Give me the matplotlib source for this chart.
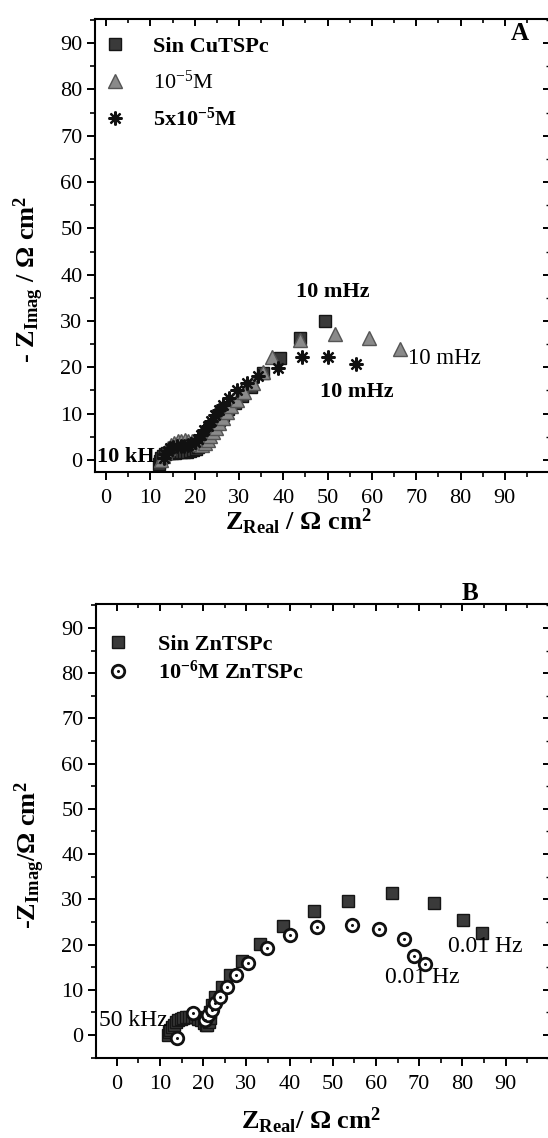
import matplotlib
matplotlib.use("Agg")
import matplotlib.pyplot as plt
from matplotlib.ticker import MultipleLocator
from matplotlib.legend_handler import HandlerTuple

# ---------------- data: panel A ----------------
sq_A_x = [12.0, 12.2, 12.5, 12.9, 13.3, 13.8, 14.3, 14.9, 15.5, 16.1, 16.8, 17.5, 18.2, 18.9, 19.6, 20.2, 20.8, 21.3, 21.8, 22.4, 23.0, 23.7, 24.5, 25.4, 26.4, 27.6, 29.0, 30.7, 32.7, 35.5, 39.3, 43.8, 49.4]
sq_A_y = [-0.8, -0.2, 0.4, 0.9, 1.3, 1.5, 1.6, 1.6, 1.6, 1.7, 1.7, 1.8, 1.8, 1.9, 2.1, 2.4, 2.9, 3.5, 4.2, 4.9, 5.7, 6.6, 7.6, 8.6, 9.7, 10.9, 12.2, 13.9, 15.8, 18.8, 22.0, 26.3, 30.0]

tri_A_x = [12.5, 12.9, 13.4, 14.0, 14.7, 15.4, 16.2, 17.0, 17.8, 18.6, 19.4, 20.2, 21.0, 21.7, 22.3, 22.9, 23.5, 24.1, 24.8, 25.5, 26.3, 27.2, 28.3, 29.6, 31.2, 33.2, 35.4, 37.4, 43.8, 51.7, 59.4, 66.4]
tri_A_y = [0.0, 0.9, 1.8, 2.6, 3.2, 3.7, 4.0, 4.2, 4.3, 4.2, 4.0, 3.7, 3.4, 3.3, 3.6, 4.3, 5.1, 6.0, 7.0, 8.0, 9.1, 10.3, 11.6, 13.0, 14.7, 16.7, 19.0, 22.3, 25.8, 27.2, 26.3, 24.0]

st_A_x = [13.0, 13.4, 13.9, 14.5, 15.2, 16.0, 16.8, 17.6, 18.4, 19.2, 20.0, 20.7, 21.4, 22.1, 22.9, 23.7, 24.6, 25.5, 26.5, 27.8, 29.6, 31.8, 34.2, 38.8, 44.2, 50.1, 56.4]
st_A_y = [0.5, 1.3, 2.0, 2.5, 2.8, 3.0, 3.0, 3.1, 3.2, 3.4, 3.8, 4.5, 5.4, 6.4, 7.4, 8.5, 9.6, 10.7, 11.9, 13.4, 15.1, 16.6, 18.2, 19.9, 22.2, 22.2, 20.7]

labels_A = ["Sin CuTSPc", r"10$^{-5}$M", r"5x10$^{\mathbf{-5}}$M"]

# ---------------- data: panel B ----------------
sq_B_x = [11.9, 12.1, 12.4, 12.8, 13.2, 13.7, 14.2, 14.8, 15.4, 16.0, 16.7, 17.4, 18.1, 18.8, 19.5, 20.1, 20.6, 21.0, 21.3, 21.5, 21.6, 22.0, 22.8, 24.3, 26.2, 29.1, 33.2, 38.4, 45.7, 53.5, 63.7, 73.5, 80.1, 84.6]
sq_B_y = [0.0, 0.6, 1.2, 1.8, 2.3, 2.8, 3.2, 3.5, 3.7, 3.9, 4.0, 4.0, 3.9, 3.6, 3.2, 2.7, 2.3, 2.3, 2.9, 3.8, 5.0, 6.6, 8.5, 10.7, 13.3, 16.4, 20.1, 24.0, 27.3, 29.7, 31.3, 29.1, 25.4, 22.6]

ci_B_x = [13.9, 17.7, 20.4, 21.2, 22.0, 22.8, 23.9, 25.6, 27.6, 30.5, 34.7, 40.0, 46.3, 54.5, 60.6, 66.6, 68.8, 71.4]
ci_B_y = [-0.7, 4.8, 3.3, 4.4, 5.5, 7.0, 8.5, 10.7, 13.3, 16.0, 19.2, 22.0, 23.8, 24.3, 23.4, 21.2, 17.5, 15.7]

labels_B = ["Sin ZnTSPc", r"10$^{\mathbf{-6}}$M ZnTSPc"]

xticks = [0, 10, 20, 30, 40, 50, 60, 70, 80, 90]
yticks = [0, 10, 20, 30, 40, 50, 60, 70, 80, 90]

# ---------------- style ----------------
plt.rcParams["font.family"] = ["Liberation Serif", "DejaVu Serif"]
plt.rcParams["mathtext.fontset"] = "custom"
plt.rcParams["mathtext.rm"] = "Liberation Serif"
plt.rcParams["mathtext.bf"] = "Liberation Serif:bold"
plt.rcParams["mathtext.it"] = "Liberation Serif:italic"
plt.rcParams["axes.linewidth"] = 1.5

W, H = 548, 1138
fig = plt.figure(figsize=(W / 100, H / 100), dpi=100)

axA = fig.add_axes([95 / W, (H - 472) / H, 455 / W, 453 / H])
axB = fig.add_axes([96 / W, (H - 1058) / H, 454 / W, 454 / H])

SQ = dict(marker="s", ls="none", ms=8.5, mfc="#3a3a3a", mec="#151515", mew=1.0)
TR = dict(marker="^", ls="none", ms=10, mfc="#8a8a8a", mec="#555555", mew=1.0)
ST = dict(marker=(8, 2, 0), ls="none", ms=10, mec="#111111", mew=1.6)
CI = dict(marker="o", ls="none", ms=9, mfc="white", mec="#111111", mew=2.0)
DT = dict(marker="o", ls="none", ms=2.2, mfc="#111111", mec="#111111", mew=0)


def style_axes(ax, xlim, ylim):
    ax.set_xlim(*xlim)
    ax.set_ylim(*ylim)
    ax.set_xticks(xticks)
    ax.set_yticks(yticks)
    ax.xaxis.set_minor_locator(MultipleLocator(5))
    ax.yaxis.set_minor_locator(MultipleLocator(5))
    ax.tick_params(which="major", direction="out", length=6, width=1.4,
                   labelsize=16, top=False, right=False)
    ax.tick_params(which="minor", direction="out", length=3.5, width=1.2,
                   top=False, right=False)
    ax.tick_params(axis="y", which="major", pad=3)
    ax.tick_params(axis="x", which="major", pad=6)
    for side in ("top", "right"):
        ax.spines[side].set_visible(False)
    sx = ax.secondary_xaxis("top")
    sx.set_xticks(xticks)
    sx.xaxis.set_minor_locator(MultipleLocator(5))
    sx.tick_params(which="major", direction="in", length=5, width=1.4, labeltop=False)
    sx.tick_params(which="minor", direction="in", length=3, width=1.2)
    sx.spines["top"].set_linewidth(1.5)
    sy = ax.secondary_yaxis("right")
    sy.set_yticks(yticks)
    sy.yaxis.set_minor_locator(MultipleLocator(5))
    sy.tick_params(which="major", direction="in", length=5, width=1.4, labelright=False)
    sy.tick_params(which="minor", direction="in", length=3, width=1.0)
    sy.spines["right"].set_linewidth(1.5)


# ---------------- panel A ----------------
style_axes(axA, (-2.5, 100.2), (-2.6, 95.2))
hA1, = axA.plot(sq_A_x, sq_A_y, **SQ, zorder=3)
hA2, = axA.plot(tri_A_x, tri_A_y, **TR, zorder=4)
hA3, = axA.plot(st_A_x, st_A_y, **ST, zorder=5)

legA = axA.legend([hA1, hA2, hA3], labels_A, loc="upper left",
                  bbox_to_anchor=(9 / 455, 1 - 17 / 453), frameon=False,
                  borderpad=0, borderaxespad=0, handlelength=1.0,
                  handletextpad=1.2, labelspacing=0.62,
                  prop={"size": 16, "weight": "bold"})
legA.get_texts()[1].set_fontweight("normal")

axA.set_xlabel(r"Z$_{\mathbf{Real}}$ / Ω cm$^{\mathbf{2}}$", fontsize=19, fontweight="bold")
axA.xaxis.set_label_coords(0.448, -0.076)
axA.set_ylabel(r"- Z$_{\mathbf{Imag}}$ / Ω cm$^{\mathbf{2}}$", fontsize=19, fontweight="bold")
axA.yaxis.set_label_coords(-0.107, 0.426)

axA.text(51.2, 36.3, "10 mHz", fontsize=16, fontweight="bold", ha="center", va="center")
axA.text(68.2, 21.8, "10 mHz", fontsize=16.5, ha="left", va="center")
axA.text(56.6, 14.7, "10 mHz", fontsize=16, fontweight="bold", ha="center", va="center")
axA.text(-2.0, 0.6, "10 kH", fontsize=16, fontweight="bold", ha="left", va="center", zorder=6)
axA.text(0.934, 0.969, "A", transform=axA.transAxes, fontsize=18, fontweight="bold",
         ha="center", va="center")

# ---------------- panel B ----------------
style_axes(axB, (-4.8, 100.3), (-5.1, 95.3))
hB1, = axB.plot(sq_B_x, sq_B_y, **SQ, zorder=3)
hB2, = axB.plot(ci_B_x, ci_B_y, **CI, zorder=4)
hB3, = axB.plot(ci_B_x, ci_B_y, **DT, zorder=5)

legB = axB.legend([hB1, (hB2, hB3)], labels_B, loc="upper left",
                  bbox_to_anchor=(11 / 454, 1 - 30 / 454), frameon=False,
                  borderpad=0, borderaxespad=0, handlelength=1.0,
                  handletextpad=1.3, labelspacing=0.28,
                  handler_map={tuple: HandlerTuple(ndivide=1)},
                  prop={"size": 16, "weight": "bold"})

axB.set_xlabel(r"Z$_{\mathbf{Real}}$/ Ω cm$^{\mathbf{2}}$", fontsize=19, fontweight="bold")
axB.xaxis.set_label_coords(0.474, -0.106)
axB.set_ylabel(r"-Z$_{\mathbf{Imag}}$/Ω cm$^{\mathbf{2}}$", fontsize=19, fontweight="bold")
axB.yaxis.set_label_coords(-0.107, 0.447)

axB.text(-4.1, 3.3, "50 kHz", fontsize=17, ha="left", va="center", zorder=6)
axB.text(76.7, 19.5, "0.01 Hz", fontsize=17, ha="left", va="center")
axB.text(62.1, 12.6, "0.01 Hz", fontsize=17, ha="left", va="center")
axB.text(0.824, 1.024, "B", transform=axB.transAxes, fontsize=18, fontweight="bold",
         ha="center", va="center")

fig.savefig("out.png", dpi=100)
